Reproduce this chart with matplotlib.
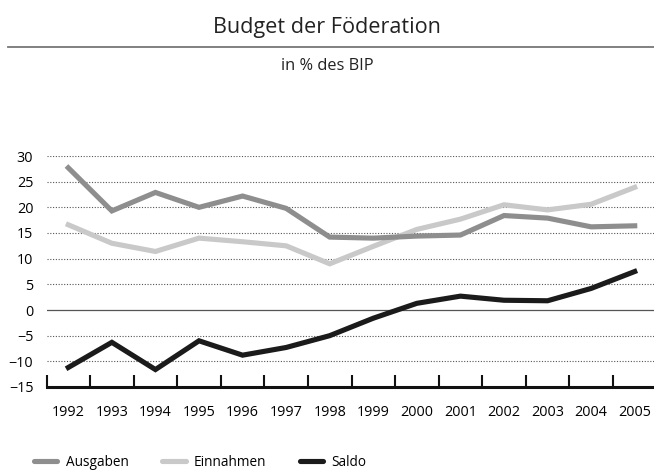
import numpy as np
import matplotlib
matplotlib.use("Agg")
import matplotlib.pyplot as plt
from matplotlib.lines import Line2D

plt.rcParams['font.family'] = ['Open Sans', 'DejaVu Sans']

# Daten (in % des BIP)
jahre = ['1992', '1993', '1994', '1995', '1996', '1997', '1998',
         '1999', '2000', '2001', '2002', '2003', '2004', '2005']
ausgaben = [27.7, 19.3, 22.9, 20.0, 22.2, 19.8, 14.2,
            14.0, 14.4, 14.6, 18.4, 17.9, 16.2, 16.4]
einnahmen = [16.6, 13.0, 11.4, 14.0, 13.3, 12.5, 9.0,
             12.4, 15.7, 17.7, 20.5, 19.5, 20.6, 23.9]
saldo = [-11.2, -6.3, -11.6, -6.0, -8.8, -7.3, -5.0,
         -1.6, 1.3, 2.7, 1.9, 1.8, 4.2, 7.5]
yticks = [-15, -10, -5, 0, 5, 10, 15, 20, 25, 30]

farben = {'Ausgaben': '#8e8e8e', 'Einnahmen': '#c9c9c9', 'Saldo': '#1b1b1b'}

W, H = 654, 475
fig = plt.figure(figsize=(W / 100, H / 100), dpi=100)

# Titel und Untertitel
fig.text(0.5, 1 - 28 / H, 'Budget der Föderation', ha='center', va='center',
         fontsize=15.6, color='#222222')
fig.add_artist(Line2D([8 / W, 1], [1 - 47 / H, 1 - 47 / H], color='#777777', lw=1.3))
fig.text(0.5, 1 - 66 / H, 'in % des BIP', ha='center', va='center',
         fontsize=11.8, color='#222222')

# Diagramm
ax = fig.add_axes([46.5 / W, 1 - 387 / H, 610 / W, (387 - 156) / H])
x = np.arange(len(jahre))

for y in yticks[1:]:
    if y == 0:
        ax.axhline(0, color='#555555', lw=0.9, zorder=1)
    else:
        ax.axhline(y, color='#555555', lw=0.8, ls=(0, (1, 1.5)), zorder=1)

ax.plot(x, ausgaben, color=farben['Ausgaben'], lw=3.7, zorder=3, solid_joinstyle='miter')
ax.plot(x, einnahmen, color=farben['Einnahmen'], lw=3.7, zorder=2, solid_joinstyle='miter')
ax.plot(x, saldo, color=farben['Saldo'], lw=3.7, zorder=4, solid_joinstyle='miter')

ax.set_xlim(-0.5, 13.5)
ax.set_ylim(-15, 30)
ax.set_yticks(yticks)
ax.set_yticklabels([str(v).replace('-', '\u2212') for v in yticks], fontsize=10.4)
ax.tick_params(axis='y', length=0, pad=9.5)

# Kategorie-Achse: Striche an den Grenzen, Beschriftungen in der Mitte
ax.set_xticks(np.arange(-0.5, 13.5, 1.0))
ax.set_xticklabels([])
ax.set_xticks(x, minor=True)
ax.set_xticklabels(jahre, minor=True, fontsize=10.4)
ax.tick_params(axis='x', which='major', direction='in', length=9, width=1.5, color='#111111')
ax.tick_params(axis='x', which='minor', length=0, pad=13)

for s in ['top', 'right', 'left']:
    ax.spines[s].set_visible(False)
ax.spines['bottom'].set_linewidth(2.2)
ax.spines['bottom'].set_color('#111111')

# Legende
handles = [Line2D([], [], color=farben[k], lw=3.7, solid_capstyle='round') for k in farben]
fig.legend(handles, list(farben.keys()), loc='center left',
           bbox_to_anchor=(22 / W, 1 - 462 / H), ncol=3, frameon=False,
           fontsize=9.8, handlelength=1.7, handletextpad=0.6, columnspacing=2.5)

plt.savefig('out.png', dpi=100)
